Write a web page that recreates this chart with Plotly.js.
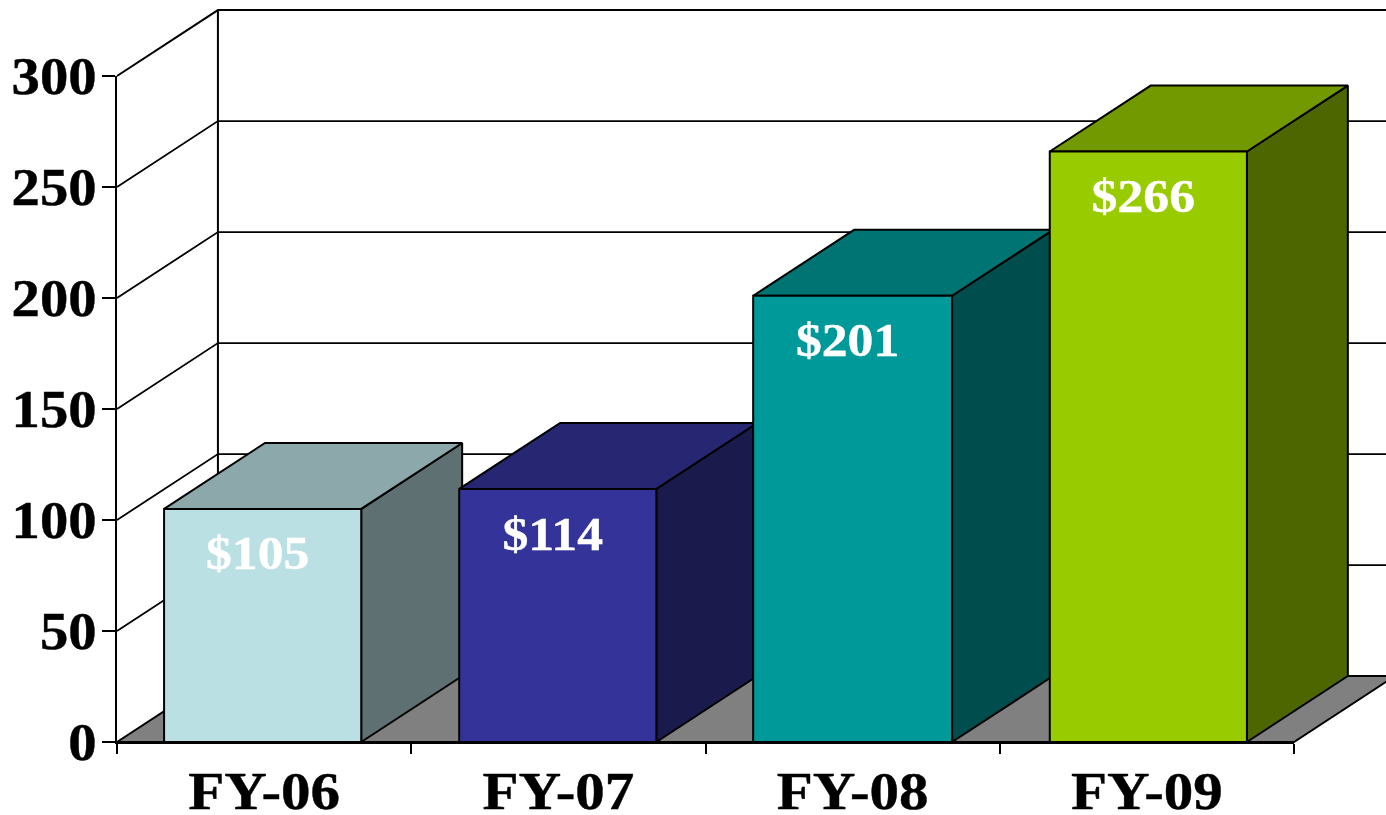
<!DOCTYPE html>
<html>
<head>
<meta charset="utf-8">
<script src="https://cdn.plot.ly/plotly-3.0.1.min.js"></script>
<style>html,body{margin:0;padding:0;background:#fff;overflow:hidden}#c{width:1386px;height:815px}</style>
</head>
<body>
<div id="c"></div>
<script>
var categories = ["FY-06", "FY-07", "FY-08", "FY-09"];
var values = [105, 114, 201, 266];
var dataLabels = ["$105", "$114", "$201", "$266"];
var frontColors = ["#BBE0E3", "#333399", "#009999", "#99CC00"];
var sideColors = ["#5E7072", "#1A1A4D", "#004D4D", "#4D6600"];
var topColors = ["#8CA8AA", "#262673", "#007373", "#739900"];
var yTicks = [0, 50, 100, 150, 200, 250, 300];

var depthX = 0.343, depthY = 29.7, labelDrop = 22, labelShift = -0.017;
var barStart = [0.16, 1.163, 2.162, 3.17];
var barWidth = [0.67, 0.67, 0.676, 0.67];
var serif = "'Liberation Serif','Times New Roman',serif";
var traces = [];

function poly(xs, ys, fill) {
  traces.push({type: "scatter", mode: "lines", x: xs.concat(xs[0]), y: ys.concat(ys[0]), xaxis: "x2", yaxis: "y",
    fill: "toself", fillcolor: fill, line: {color: "#000", width: 2},
    hoverinfo: "skip", showlegend: false, cliponaxis: false});
}
function line(xs, ys, w) {
  traces.push({type: "scatter", mode: "lines", x: xs, y: ys, xaxis: "x2", yaxis: "y",
    line: {color: "#000", width: w}, hoverinfo: "skip", showlegend: false, cliponaxis: false});
}

// anchor trace for the category axis (its tick labels)
traces.push({type: "scatter", mode: "markers", x: categories, y: values, xaxis: "x", yaxis: "y",
  marker: {opacity: 0}, hoverinfo: "skip", showlegend: false, cliponaxis: false});

var n = categories.length;
// walls
yTicks.forEach(function (t) {
  if (t > 0) {
    line([0, depthX, n + depthX + 0.1], [t, t + depthY, t + depthY], t === 300 ? 2 : 1.8);
  }
});
line([depthX, depthX], [depthY, 300 + depthY], 2);
// floor
poly([0, n, n + depthX, depthX], [0, 0, depthY, depthY], "#808080");

// bars
values.forEach(function (v, i) {
  var a = barStart[i], b = a + barWidth[i];
  poly([b, b + depthX, b + depthX, b], [0, depthY, v + depthY, v], sideColors[i]);
  poly([a, b, b + depthX, a + depthX], [v, v, v + depthY, v + depthY], topColors[i]);
  poly([a, b, b, a], [0, 0, v, v], frontColors[i]);
});

// data labels
traces.push({type: "scatter", mode: "text", xaxis: "x2", yaxis: "y",
  x: values.map(function (v, i) { return barStart[i] + barWidth[i] / 2 + labelShift; }),
  y: values.map(function (v) { return v - labelDrop; }),
  text: dataLabels, textposition: "middle center",
  textfont: {family: serif, size: 47, color: "#fff", weight: 700},
  hoverinfo: "skip", showlegend: false, cliponaxis: false});

var layout = {
  width: 1386, height: 815,
  margin: {l: 117, r: 92, t: 76, b: 73},
  paper_bgcolor: "#fff", plot_bgcolor: "rgba(0,0,0,0)",
  showlegend: false,
  font: {family: serif, color: "#000"},
  xaxis: {type: "category", categoryorder: "array", categoryarray: categories, range: [-0.5, n - 0.5],
    tickson: "boundaries", ticks: "outside", ticklen: 10, tickwidth: 2, tickcolor: "#000",
    ticklabelstandoff: 3,
    showline: true, linecolor: "#000", linewidth: 2, showgrid: false, zeroline: false,
    tickfont: {family: serif, size: 52, color: "#000", weight: 700}},
  xaxis2: {overlaying: "x", range: [0, n], visible: false, fixedrange: true},
  yaxis: {range: [0, 300], tickmode: "array", tickvals: yTicks, ticktext: yTicks.map(String),
    ticks: "outside", ticklen: 13, tickwidth: 2, tickcolor: "#000",
    ticklabelstandoff: -5,
    showline: true, linecolor: "#000", linewidth: 2, showgrid: false, zeroline: false,
    tickfont: {family: serif, size: 52, color: "#000", weight: 700}}
};

// The reference's lettering is wider and heavier than the installed serif at the same height.
function widen(selector, factor) {
  document.querySelectorAll(selector).forEach(function (el) {
    el.setAttribute("textLength", el.getComputedTextLength() * factor);
    el.setAttribute("lengthAdjust", "spacingAndGlyphs");
    el.style.stroke = el.style.fill;
    el.style.strokeWidth = "0.4px";
  });
}
Plotly.newPlot("c", traces, layout, {displayModeBar: false, staticPlot: true}).then(function () {
  // The 3-D walls and bars reach beyond the axis rectangle, so nothing may clip them.
  document.querySelectorAll("#c [clip-path]").forEach(function (el) { el.removeAttribute("clip-path"); });
  widen(".xtick text", 1.135);
  widen(".ytick text", 1.09);
  widen(".textpoint text", 1.1);
});
</script>
</body>
</html>
